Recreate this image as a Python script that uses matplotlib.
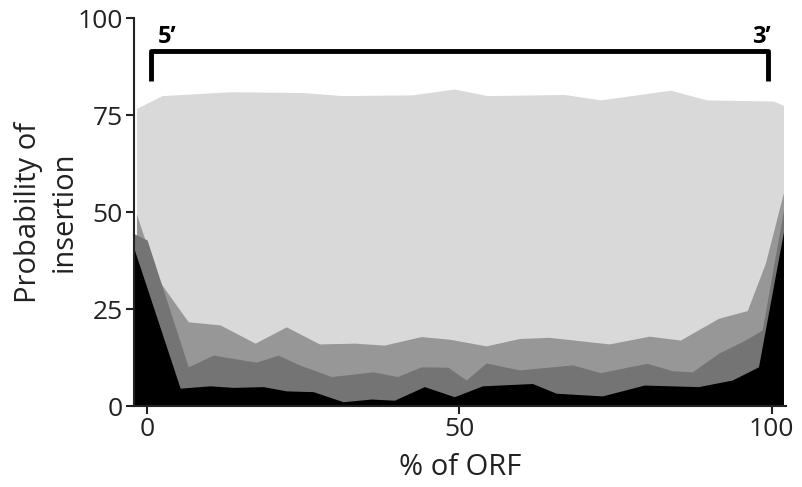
import matplotlib
matplotlib.use('Agg')
import matplotlib.pyplot as plt

plt.rcParams['font.family'] = ['Open Sans', 'DejaVu Sans']

# % of ORF positions and insertion probability for each class (back to front)
light_x = [-1.7, 2.4, 13.3, 24.9, 31.3, 42.5, 49.2, 54.5, 66.8, 72.6, 83.8, 89.6, 100.3, 101.9]
light_y = [76.7, 80.0, 81.0, 80.8, 80.0, 80.2, 81.7, 80.0, 80.3, 78.9, 81.4, 78.9, 78.6, 77.5]

mid_x = [-1.7, 1.8, 6.6, 11.7, 17.3, 22.3, 27.6, 33.2, 38.0, 43.9, 48.5, 54.3, 59.6,
         64.4, 74.0, 80.4, 85.4, 91.5, 96.1, 99.0, 101.9]
mid_y = [49.5, 32.5, 21.7, 20.9, 16.2, 20.4, 16.0, 16.2, 15.7, 17.9, 17.2, 15.5, 17.4,
         17.7, 16.0, 18.0, 17.0, 22.6, 24.6, 36.8, 55.0]

dark_x = [-2.2, 0.0, 6.6, 10.6, 17.5, 21.0, 24.4, 29.5, 36.2, 40.1, 43.9, 48.2, 51.1,
          54.3, 59.6, 68.1, 72.6, 77.2, 80.1, 84.1, 87.3, 91.5, 95.8, 98.5, 101.9]
dark_y = [44.5, 42.8, 10.1, 13.1, 11.3, 13.1, 10.6, 7.6, 8.8, 7.6, 10.1, 10.0, 6.7,
          11.1, 9.3, 10.6, 8.6, 10.1, 11.0, 9.1, 8.8, 13.6, 17.0, 19.6, 50.5]

black_x = [-2.2, 5.3, 10.1, 13.8, 18.6, 22.3, 26.6, 31.4, 35.9, 39.6, 44.4, 49.2, 53.7,
           61.7, 65.5, 72.9, 79.6, 88.3, 93.7, 97.9, 101.9]
black_y = [41.1, 4.6, 5.2, 4.8, 5.0, 3.9, 3.7, 1.1, 1.8, 1.5, 5.0, 2.4, 5.2,
           5.8, 3.3, 2.6, 5.4, 5.0, 6.7, 10.1, 44.9]

series = [(light_x, light_y, '#d9d9d9'),
          (mid_x, mid_y, '#979797'),
          (dark_x, dark_y, '#747474'),
          (black_x, black_y, '#000000')]

fig = plt.figure(figsize=(8.02, 4.87), dpi=100)
ax = fig.add_axes([0.167, 0.1663, 0.813, 0.7967])

for xs, ys, col in series:
    ax.fill_between(xs, 0, ys, color=col, linewidth=0)

# 5' ... 3' bracket over the ORF
ax.plot([0.7, 0.7, 99.4, 99.4], [83.7, 91.4, 91.4, 83.7], color='black', lw=3.5,
        solid_joinstyle='round', solid_capstyle='butt', clip_on=False)
ax.text(1.7, 93.6, '5’', fontsize=17, fontweight='bold', ha='left', va='baseline')
ax.text(99.9, 93.6, '3’', fontsize=17, fontweight='bold', ha='right', va='baseline')

ax.set_xlim(-2.1, 102.3)
ax.set_ylim(0, 100)
ax.set_xticks([0, 50, 100])
ax.set_yticks([0, 25, 50, 75, 100])
ax.spines['top'].set_visible(False)
ax.spines['right'].set_visible(False)
for s in ['left', 'bottom']:
    ax.spines[s].set_linewidth(1.5)
    ax.spines[s].set_color('#222222')
ax.tick_params(labelsize=19, length=6, width=1.5, color='#222222', labelcolor='#222222', pad=2)

ax.set_xlabel('% of ORF', fontsize=21, color='#222222', labelpad=8)
ax.set_ylabel('Probability of\ninsertion', fontsize=21, color='#222222', labelpad=-1,
              linespacing=1.3)

plt.savefig('out.png', dpi=100)
